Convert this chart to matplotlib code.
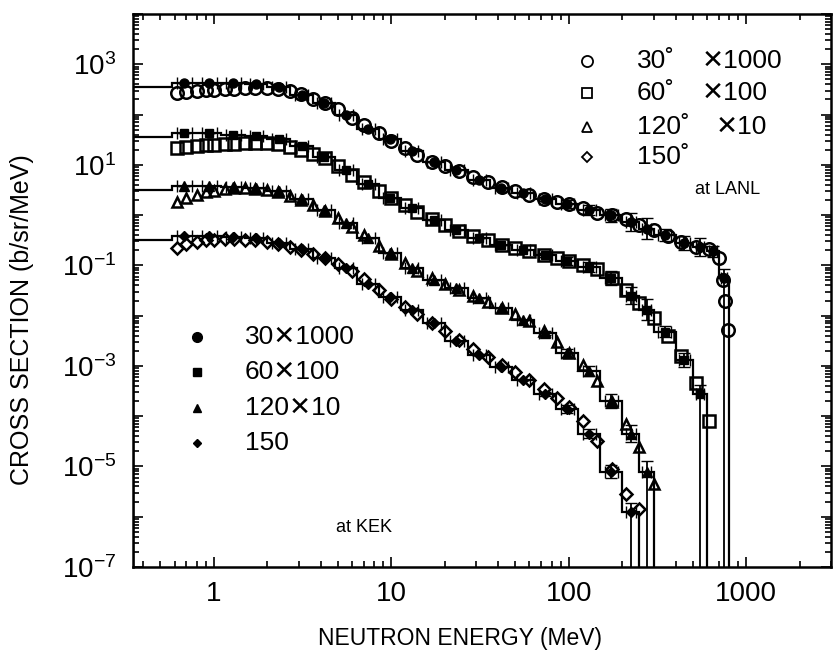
import numpy as np
import matplotlib
matplotlib.use('Agg')
import matplotlib.pyplot as plt
from matplotlib.ticker import FixedLocator, FuncFormatter, LogLocator, NullFormatter

plt.rcParams['font.family'] = ['Liberation Sans', 'DejaVu Sans']
plt.rcParams['mathtext.default'] = 'regular'

# angles and the multiplication factors used on the plot
angles = [30, 60, 120, 150]
scale = [1000, 100, 10, 1]

# LANL data (open symbols), b/sr/MeV, unscaled
e_lanl = [0.62, 0.7, 0.8, 0.9, 1.0, 1.15, 1.3, 1.5, 1.7, 2.0, 2.3, 2.7, 3.1, 3.6, 4.2,
          5.0, 6.0, 7.0, 8.5, 10, 12, 14, 17, 20, 24, 29, 35, 42, 50, 60, 72, 86,
          100, 120, 145, 175, 210, 250, 300, 360, 430, 520, 620, 700, 740, 760, 790]

lanl_30 = [2.63e-1, 2.75e-1, 2.88e-1, 3.02e-1, 3.09e-1, 3.16e-1, 3.24e-1, 3.31e-1, 3.31e-1,
           3.31e-1, 3.24e-1, 2.88e-1, 2.51e-1, 2.04e-1, 1.66e-1, 1.26e-1, 8.5e-2, 6.3e-2,
           4.2e-2, 3.0e-2, 2.14e-2, 1.58e-2, 1.15e-2, 9.3e-3, 7.4e-3, 5.6e-3, 4.5e-3, 3.6e-3,
           3.0e-3, 2.5e-3, 2.1e-3, 1.86e-3, 1.66e-3, 1.38e-3, 1.12e-3, 1.0e-3, 8.3e-4, 6.3e-4,
           5.0e-4, 3.8e-4, 2.9e-4, 2.3e-4, 2.1e-4, 1.4e-4, 5.1e-5, 2.0e-5, 5.2e-6]
lanl_60 = [2.19e-1, 2.29e-1, 2.40e-1, 2.45e-1, 2.51e-1, 2.57e-1, 2.63e-1, 2.69e-1, 2.75e-1,
           2.75e-1, 2.63e-1, 2.29e-1, 2.0e-1, 1.66e-1, 1.35e-1, 9.5e-2, 6.3e-2, 4.6e-2,
           3.0e-2, 2.19e-2, 1.58e-2, 1.17e-2, 8.3e-3, 6.3e-3, 4.9e-3, 3.9e-3, 3.2e-3, 2.6e-3,
           2.2e-3, 1.9e-3, 1.62e-3, 1.38e-3, 1.20e-3, 1.02e-3, 8.3e-4, 5.6e-4, 3.2e-4, 1.78e-4,
           8.9e-5, 4.0e-5, 1.58e-5, 4.5e-6, 7.9e-7]
lanl_120 = [1.82e-1, 2.14e-1, 2.51e-1, 2.82e-1, 3.0e-1, 3.24e-1, 3.39e-1, 3.39e-1, 3.31e-1,
            3.09e-1, 2.82e-1, 2.40e-1, 2.0e-1, 1.58e-1, 1.20e-1, 8.7e-2, 5.8e-2, 4.0e-2,
            2.4e-2, 1.66e-2, 1.12e-2, 7.9e-3, 5.5e-3, 4.2e-3, 3.3e-3, 2.5e-3, 1.9e-3, 1.45e-3,
            1.10e-3, 7.9e-4, 5.0e-4, 3.0e-4, 1.78e-4, 1.05e-4, 5.0e-5, 1.9e-5, 7.1e-6, 2.4e-6,
            4.5e-7]
lanl_150 = [2.24e-1, 2.63e-1, 2.95e-1, 3.16e-1, 3.24e-1, 3.31e-1, 3.31e-1, 3.24e-1, 3.16e-1,
            2.95e-1, 2.69e-1, 2.34e-1, 2.04e-1, 1.70e-1, 1.38e-1, 1.05e-1, 7.6e-2, 5.4e-2,
            3.3e-2, 2.19e-2, 1.51e-2, 1.07e-2, 7.1e-3, 5.0e-3, 3.3e-3, 2.19e-3, 1.51e-3, 1.05e-3,
            7.6e-4, 5.2e-4, 3.5e-4, 2.3e-4, 1.51e-4, 7.9e-5, 3.2e-5, 8.9e-6, 2.8e-6, 1.41e-6]

# KEK data (filled symbols + histogram), b/sr/MeV, unscaled
kek_edges = [0.35, 0.58, 0.8, 1.1, 1.5, 2.0, 2.7, 3.6, 4.8, 6.4, 8.5, 11.3, 15, 20, 27,
             36, 48, 64, 85, 113, 150, 200, 250, 300, 400, 500, 600, 700, 800]
kek_30 = [3.5e-1, 4.2e-1, 4.2e-1, 4.2e-1, 4.0e-1, 3.5e-1, 2.5e-1, 1.66e-1, 1.0e-1, 5.2e-2,
          3.2e-2, 1.9e-2, 1.15e-2, 7.9e-3, 5.0e-3, 3.5e-3, 2.7e-3, 2.1e-3, 1.66e-3, 1.26e-3,
          1.0e-3, 7.2e-4, 5.4e-4, 4.0e-4, 2.8e-4, 2.3e-4, 1.9e-4, 5.6e-5]
kek_60 = [3.5e-1, 4.2e-1, 4.2e-1, 4.0e-1, 3.8e-1, 3.3e-1, 2.4e-1, 1.41e-1, 7.9e-2, 4.2e-2,
          2.2e-2, 1.38e-2, 7.9e-3, 5.1e-3, 3.5e-3, 2.6e-3, 2.0e-3, 1.58e-3, 1.20e-3, 9.3e-4,
          5.6e-4, 2.5e-4, 1.32e-4, 4.8e-5, 1.32e-5, 2.8e-6]
kek_120 = [3.2e-1, 3.8e-1, 3.8e-1, 3.7e-1, 3.5e-1, 3.0e-1, 2.1e-1, 1.26e-1, 7.1e-2, 3.5e-2,
           1.78e-2, 8.9e-3, 5.2e-3, 3.5e-3, 2.2e-3, 1.41e-3, 8.3e-4, 4.5e-4, 1.78e-4, 7.9e-5,
           2.0e-5, 4.5e-6, 7.9e-7]
kek_150 = [3.2e-1, 3.8e-1, 3.8e-1, 3.6e-1, 3.5e-1, 2.8e-1, 2.1e-1, 1.41e-1, 8.9e-2, 4.2e-2,
           2.3e-2, 1.32e-2, 7.1e-3, 3.2e-3, 1.66e-3, 9.5e-4, 5.2e-4, 2.8e-4, 1.41e-4, 4.5e-5,
           7.9e-6, 1.26e-6]
# relative errors of the KEK points, per bin
kek_relerr = [0, 0, 0, 0, 0, 0, 0, 0, 0, 0, 0, 0, 0, 0, 0, 0, 0, 0.1,
              0.2, 0.25, 0.35, 0.5, 0.6, 0.3, 0.4, 0.5, 0.3, 0.5]

lanl = [lanl_30, lanl_60, lanl_120, lanl_150]
kek = [kek_30, kek_60, kek_120, kek_150]
markers = ['o', 's', '^', 'D']
msize_open = [9, 8, 7, 6]
msize_fill = [6.5, 6, 6.5, 5.5]

fig = plt.figure(figsize=(8.33, 6.55), dpi=100)
ax = fig.add_axes([133/833, 88/655, 698/833, 553/655])

edges = np.array(kek_edges)
for i in range(4):
    s = scale[i]
    kv = np.array(kek[i]) * s
    n = len(kv)
    # histogram, drops to the axis at the high energy end
    ax.stairs(kv, edges[:n+1], baseline=1e-9, color='k', lw=1.6, zorder=2)

    cen = np.sqrt(edges[1:n] * edges[2:n+1])
    xlo = cen - edges[1:n]
    xhi = edges[2:n+1] - cen
    yv = kv[1:]
    r = np.array(kek_relerr[1:n])
    lo = yv - yv / (1 + r)
    hi = yv * r
    lo[-1] = yv[-1] - 1e-9
    ax.errorbar(cen, yv, xerr=[xlo * 0.6, xhi * 0.6], yerr=[lo, hi], fmt=markers[i],
                ms=msize_fill[i], mfc='k', mec='k', ecolor='k', elinewidth=1.3,
                capsize=4, zorder=3)

    lv = np.array(lanl[i]) * s
    ax.plot(e_lanl[:len(lv)], lv, markers[i], ms=msize_open[i], mfc='none', mec='k',
            mew=1.8, zorder=4)

ax.set_xscale('log')
ax.set_yscale('log')
ax.set_xlim(0.35, 3000)
ax.set_ylim(1e-7, 1e4)

ax.xaxis.set_major_locator(FixedLocator([1, 10, 100, 1000]))
ax.xaxis.set_major_formatter(FuncFormatter(lambda v, p: '%d' % v))
ax.xaxis.set_minor_locator(LogLocator(base=10, subs=np.arange(2, 10), numticks=20))
ax.xaxis.set_minor_formatter(NullFormatter())

ax.yaxis.set_major_locator(FixedLocator(10.0 ** np.arange(-7, 5)))
def ylab(v, p):
    e = int(round(np.log10(v)))
    return r'$10^{%d}$' % e if e % 2 else ''
ax.yaxis.set_major_formatter(FuncFormatter(ylab))
ax.yaxis.set_minor_locator(LogLocator(base=10, subs=np.arange(2, 10), numticks=20))
ax.yaxis.set_minor_formatter(NullFormatter())

ax.tick_params(which='both', direction='in', top=True, right=True, width=1.2)
ax.tick_params(which='major', length=7)
ax.tick_params(which='minor', length=4)
ax.tick_params(axis='x', which='major', labelsize=20, pad=10)
ax.tick_params(axis='y', which='major', labelsize=20, pad=12)
for sp in ax.spines.values():
    sp.set_linewidth(1.8)

fig.text(22/833, 1 - 320/655, 'CROSS SECTION (b/sr/MeV)', rotation=90, fontsize=18,
         ha='center', va='center')
fig.text(460/833, 1 - 638/655, 'NEUTRON ENERGY (MeV)', fontsize=16.5, ha='center', va='center')

# LANL key
lanl_y = [0.915, 0.857, 0.796, 0.742]
lanl_ms = [8, 6.5, 6.5, 5.5]
fac_x = [0.815, 0.815, 0.835, None]
for i in range(4):
    ax.plot([0.650], [lanl_y[i]], markers[i], ms=lanl_ms[i], mfc='none', mec='k', mew=1.3,
            transform=ax.transAxes)
    ax.text(0.722, lanl_y[i], '%d\u02da' % angles[i], fontsize=19, va='center', ha='left',
            transform=ax.transAxes)
    if fac_x[i] is not None:
        ax.text(fac_x[i], lanl_y[i], '\u2715%d' % scale[i], fontsize=19, va='center',
                ha='left', transform=ax.transAxes)
ax.text(0.805, 0.682, 'at LANL', fontsize=13, va='center', ha='left', transform=ax.transAxes)

# KEK key
kek_y = [0.416, 0.353, 0.288, 0.224]
kek_ms = [7, 5.5, 6, 4.5]
for i in range(4):
    ax.plot([0.092], [kek_y[i]], markers[i], ms=kek_ms[i], mfc='k', mec='k',
            transform=ax.transAxes)
    lab = '%d\u2715%d' % (angles[i], scale[i]) if scale[i] > 1 else '%d' % angles[i]
    ax.text(0.160, kek_y[i], lab, fontsize=19, va='center', ha='left', transform=ax.transAxes)
ax.text(0.291, 0.071, 'at KEK', fontsize=13, va='center', ha='left', transform=ax.transAxes)

fig.savefig('out.png', dpi=100)
